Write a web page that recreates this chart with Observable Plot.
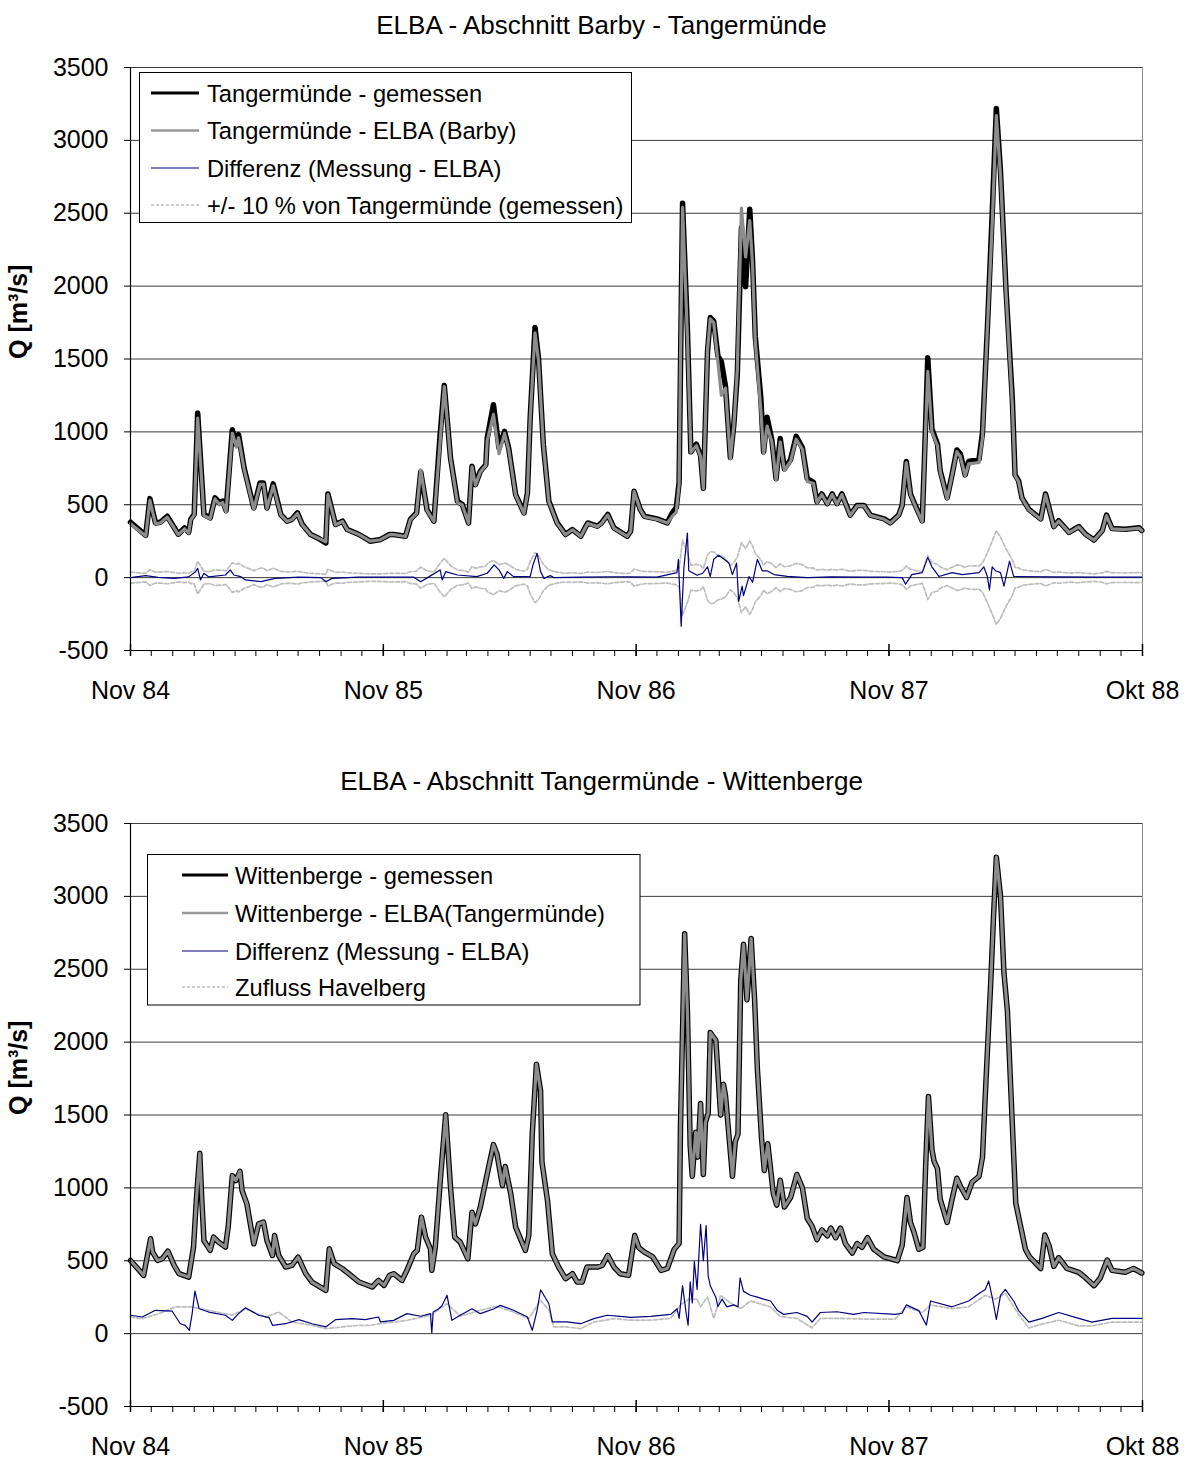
<!DOCTYPE html>
<html>
<head>
<meta charset="utf-8">
<script src="https://cdn.jsdelivr.net/npm/d3@7"></script>
<script src="https://cdn.jsdelivr.net/npm/@observablehq/plot@0.6"></script>
<style>
  body { margin: 0; background: #fff; }
  #page { position: relative; width: 1190px; height: 1461px; font-family: "Liberation Sans", Arial, sans-serif; }
  #page svg { position: absolute; left: 0; }
</style>
</head>
<body>
<div id="page"></div>
<script>
// Daily discharge, Elbe, hydrological years Nov 1984 – Oct 1988.
// Day numbers count from 1 Nov 1984.

// Tangermünde: [day, gemessen, ELBA (Barby)]  in m³/s
const tangermuende = [
  [0,380,370],[22,290,285],[28,542,530],[36,375,370],[43,380,375],[53,421,415],[69,298,295],
  [78,341,335],[84,310,305],[87,400,395],[92,435,430],[97,1129,1095],[106,433,425],[115,410,405],
  [122,547,540],[129,512,500],[133,525,515],[138,460,450],[147,1015,990],[153,912,895],[156,981,960],
  [164,752,745],[178,478,470],[187,649,640],[192,649,640],[197,478,475],[206,643,630],[217,433,430],
  [226,387,385],[233,400,398],[241,444,440],[248,364,362],[260,296,295],[272,268,268],[282,238,245],
  [285,574,570],[296,364,362],[306,387,385],[313,330,328],[330,296,295],[346,250,250],[361,262,260],
  [374,296,295],[380,296,295],[397,284,282],[404,399,397],[413,444,440],[419,725,740],[428,467,462],
  [438,387,385],[447,981,935],[453,1319,1310],[462,821,815],[472,524,515],[479,501,498],[488,375,373],
  [493,764,760],[498,638,635],[505,730,725],[513,775,770],[515,958,940],[524,1186,1120],[532,889,850],
  [540,1003,990],[546,889,880],[556,570,565],[568,444,440],[573,581,575],[577,1095,1090],[584,1716,1680],
  [589,1506,1490],[596,912,910],[604,524,520],[616,375,372],[628,296,294],[638,330,328],[650,284,283],
  [660,375,372],[674,353,350],[680,375,372],[689,433,430],[698,341,338],[717,284,283],[722,319,318],
  [727,592,590],[736,467,465],[742,421,418],[760,403,400],[775,376,374],[782,442,420],[788,482,450],
  [792,653,640],[794,1442,1500],[797,2569,2540],[804,1705,1650],[809,863,860],[817,916,905],[823,837,830],
  [827,613,610],[833,1548,1560],[837,1784,1775],[842,1758,1750],[848,1521,1480],[853,1482,1250],
  [859,1311,1300],[866,824,815],[871,1048,1040],[876,1390,1420],[882,2400,2535],[888,1995,2200],
  [894,2527,2450],[898,2179,2150],[902,1653,1620],[910,1232,1150],[914,863,850],[919,1100,1040],
  [926,942,930],[932,679,670],[938,955,930],[944,745,735],[953,811,800],[961,969,950],[970,890,880],
  [977,679,660],[986,653,645],[991,521,515],[998,574,570],[1006,508,505],[1013,574,570],[1020,508,505],
  [1027,574,570],[1039,429,426],[1049,495,492],[1059,495,492],[1068,429,427],[1088,403,400],[1097,376,374],
  [1109,429,427],[1114,495,493],[1120,797,790],[1126,574,570],[1133,495,490],[1143,390,385],[1146,784,770],
  [1151,1508,1416],[1157,1021,1000],[1165,916,905],[1169,732,725],[1179,547,540],[1186,705,700],
  [1193,876,865],[1198,850,830],[1205,705,700],[1210,797,780],[1225,811,790],[1230,995,960],
  [1237,1705,1700],[1244,2495,2430],[1250,3219,3170],[1256,2785,2760],[1264,1969,1950],[1273,1232,1200],
  [1277,705,700],[1282,666,660],[1287,547,545],[1297,468,465],[1314,403,400],[1321,574,570],[1328,442,440],
  [1333,350,348],[1340,390,388],[1355,311,309],[1369,350,348],[1379,297,295],[1391,258,257],[1403,324,322],
  [1409,429,425],[1417,337,335],[1436,332,330],[1456,342,340],[1460,324,322]
];

// Tangermünde: Differenz Messung - ELBA  [day, m³/s]
const tangerDiff = [
  [0,0],[22,14],[40,2],[63,-5],[84,5],[94,41],[97,64],[101,-16],[106,30],[113,5],[137,18],[144,53],
  [149,18],[159,7],[166,-16],[188,-28],[209,-5],[243,3],[275,0],[282,-28],[291,-5],[329,3],[361,4],
  [409,3],[419,-28],[433,12],[447,53],[450,-16],[455,41],[472,18],[500,7],[515,30],[525,87],[532,53],
  [539,-5],[544,41],[553,7],[577,7],[581,87],[587,167],[592,41],[597,-5],[606,14],[611,0],[650,4],
  [697,6],[722,5],[760,3],[789,34],[791,126],[795,-334],[799,74],[804,305],[806,47],[818,16],[826,30],
  [833,74],[837,8],[842,126],[849,153],[857,126],[864,100],[869,21],[875,100],[878,-163],[883,-58],
  [885,-124],[893,8],[898,-32],[905,126],[912,47],[919,47],[929,21],[948,8],[977,0],[1011,5],[1059,3],
  [1090,3],[1114,0],[1119,-45],[1128,21],[1143,34],[1151,139],[1157,74],[1167,8],[1186,34],[1201,21],
  [1225,34],[1232,74],[1237,8],[1240,-84],[1244,74],[1249,47],[1256,34],[1261,-58],[1269,113],[1275,8],
  [1331,5],[1400,3],[1460,3]
];

// Wittenberge gemessen [day, m³/s]; the ELBA (Tangermünde) run follows the same values
const wittenberge = [
  [0,502],[19,400],[29,651],[32,559],[39,502],[46,514],[54,566],[63,468],[70,411],[84,388],[91,594],
  [95,913],[100,1237],[103,913],[106,639],[115,571],[120,662],[127,628],[137,594],[141,730],[147,1084],
  [152,1050],[158,1114],[161,982],[168,890],[178,616],[185,753],[192,765],[197,639],[205,536],[208,673],
  [214,536],[224,457],[233,468],[242,525],[253,411],[262,354],[282,297],[287,582],[294,480],[306,445],
  [315,411],[330,354],[349,320],[358,365],[366,331],[374,400],[380,411],[392,365],[399,434],[409,548],
  [414,571],[420,799],[426,662],[433,582],[435,434],[440,594],[448,1096],[455,1502],[462,1004],[468,662],
  [476,628],[487,514],[493,833],[498,753],[505,868],[515,1096],[524,1297],[529,1233],[537,1016],[541,1146],
  [549,959],[556,731],[570,571],[575,673],[580,1370],[586,1849],[592,1667],[594,1176],[602,913],[609,548],
  [618,457],[628,377],[638,411],[645,354],[652,354],[659,457],[674,457],[681,468],[689,537],[698,457],
  [707,411],[719,400],[728,673],[734,589],[742,559],[754,526],[766,434],[775,447],[785,579],[792,618],
  [794,1421],[800,2743],[804,2211],[808,1290],[811,1079],[816,1382],[819,1211],[823,1579],[827,1092],
  [830,1448],[834,1513],[837,2066],[845,2013],[852,1500],[856,1711],[859,1632],[869,1079],[873,1316],
  [877,1369],[881,2421],[885,2671],[890,2290],[896,2711],[901,2290],[905,1816],[911,1342],[915,1119],
  [920,1303],[928,961],[933,882],[938,1053],[944,869],[953,934],[962,1092],[970,1000],[977,790],[984,737],
  [991,645],[998,711],[1006,671],[1011,724],[1018,658],[1025,724],[1032,618],[1042,553],[1049,618],
  [1056,592],[1064,658],[1073,579],[1088,526],[1104,505],[1107,500],[1114,605],[1121,934],[1126,763],
  [1131,697],[1138,579],[1144,592],[1148,1158],[1152,1627],[1157,1263],[1160,1184],[1165,1132],[1169,921],
  [1179,763],[1186,921],[1193,1066],[1198,1013],[1207,934],[1215,1040],[1225,1079],[1230,1211],[1234,1632],
  [1242,2421],[1246,2869],[1250,3269],[1256,3000],[1261,2474],[1266,2211],[1272,1553],[1278,895],
  [1285,737],[1292,579],[1298,526],[1314,447],[1320,676],[1326,605],[1333,461],[1340,521],[1352,447],
  [1369,421],[1379,382],[1391,329],[1400,382],[1410,505],[1417,434],[1436,421],[1448,447],[1460,416]
];

// Wittenberge: Differenz Messung - ELBA [day, m³/s]
const wittenbergeDiff = [
  [0,126],[17,114],[36,160],[60,155],[72,68],[79,57],[85,23],[89,137],[93,292],[99,171],[113,148],
  [137,126],[147,91],[156,137],[166,178],[185,126],[200,110],[205,57],[224,68],[243,96],[262,68],[282,46],
  [296,96],[320,103],[339,96],[358,114],[361,80],[380,91],[399,137],[419,119],[433,137],[435,5],[437,148],
  [445,171],[450,194],[457,263],[464,91],[476,126],[493,171],[505,137],[525,171],[534,194],[553,160],
  [573,114],[580,23],[587,160],[592,301],[604,205],[609,80],[630,80],[650,68],[669,103],[688,126],
  [707,119],[722,112],[751,118],[780,132],[789,171],[792,105],[797,329],[802,145],[805,58],[808,355],
  [811,210],[814,495],[818,303],[823,750],[827,500],[831,742],[834,395],[837,329],[845,250],[848,184],
  [854,237],[861,184],[871,197],[877,184],[880,382],[885,290],[895,263],[905,250],[914,237],[924,224],
  [934,158],[943,132],[962,145],[977,118],[984,79],[996,145],[1020,150],[1044,132],[1059,145],[1104,132],
  [1114,140],[1120,197],[1138,158],[1149,58],[1155,224],[1186,184],[1210,224],[1225,276],[1234,303],
  [1239,361],[1244,250],[1250,97],[1256,263],[1263,303],[1275,224],[1282,158],[1297,79],[1316,105],
  [1340,145],[1369,105],[1388,79],[1417,105],[1460,105]
];

// Zufluss Havelberg [day, m³/s]
const havelberg = [
  [0,114],[17,103],[41,137],[65,183],[89,183],[113,160],[147,126],[166,171],[195,114],[214,148],[233,80],
  [262,57],[282,34],[306,46],[330,57],[345,57],[361,68],[399,91],[433,126],[457,205],[476,120],[505,160],
  [529,187],[553,148],[575,103],[592,228],[604,160],[611,46],[630,46],[650,34],[669,80],[698,103],
  [722,92],[751,92],[780,105],[794,197],[806,237],[818,237],[823,184],[833,250],[842,105],[852,263],
  [866,211],[881,171],[895,224],[924,184],[938,118],[962,105],[984,39],[996,105],[1020,105],[1059,100],
  [1104,100],[1119,184],[1143,145],[1155,197],[1186,171],[1210,184],[1234,263],[1249,237],[1263,276],
  [1282,132],[1297,39],[1316,66],[1340,92],[1369,53],[1388,53],[1417,79],[1460,79]
];

const yTicks = [-500, 0, 500, 1000, 1500, 2000, 2500, 3000, 3500];
const xTickLabels = ["Nov 84", "Nov 85", "Nov 86", "Nov 87", "Okt 88"];

const DAY = 864e5;
const T0 = Date.UTC(1984, 10, 1);
const T1 = Date.UTC(1988, 10, 1);
const toDate = d => new Date(T0 + d * DAY);
const yearTicks = d3.utcYear.every(1).range(new Date(Date.UTC(1984, 0, 1)), new Date(Date.UTC(1989, 0, 1)))
  .map(d => d3.utcMonth.offset(d, 10));
const monthTicks = d3.utcMonth.range(new Date(T0), new Date(T1));
const labelOf = new Map(yearTicks.map((d, i) => [+d, xTickLabels[i]]));

const FONT = '"Liberation Sans", Arial, sans-serif';
const page = document.getElementById("page");

function panel({title, lines, legend, top}) {
  const marks = [
    Plot.gridY(yTicks.slice(1), {stroke: "#3c3c3c", strokeOpacity: 1, strokeWidth: 1}),
    Plot.ruleX([new Date(T1)], {stroke: "#8a8a8a", strokeWidth: 1}),
    ...lines,
    Plot.ruleY([-500], {stroke: "#000", strokeWidth: 1.2}),
    Plot.ruleX([new Date(T0)], {stroke: "#000", strokeWidth: 1.2}),
    Plot.axisY(yTicks, {tickSize: 6, tickPadding: 16, fontSize: 25, label: null, stroke: "#000",
      tickFormat: d => String(d)}),
    Plot.axisX(monthTicks, {tickSize: 6, tickFormat: () => "", label: null, stroke: "#000"}),
    Plot.axisX(yearTicks, {tickSize: -6, tickFormat: () => "", label: null, stroke: "#000", strokeWidth: 1.5}),
    Plot.axisX(yearTicks, {tickSize: 6, tickPadding: 25, fontSize: 25, label: null, stroke: "#000", strokeWidth: 1.5,
      tickFormat: d => labelOf.get(+d)}),
    Plot.text([title], {frameAnchor: "top", lineAnchor: "middle", dx: -35, dy: -42, fontSize: 26, fill: "#000"}),
    Plot.text(["Q [m³/s]"], {frameAnchor: "left", dx: -112, rotate: -90, fontSize: 25, fontWeight: "bold", fill: "#000"})
  ];
  const svg = Plot.plot({
    width: 1190,
    height: 705,
    marginLeft: 130,
    marginRight: 48,
    marginTop: 67,
    marginBottom: 55,
    style: {fontFamily: FONT, fontSize: "25px", background: "transparent", overflow: "visible", color: "#000"},
    x: {type: "utc", domain: [new Date(T0), new Date(T1)]},
    y: {domain: [-500, 3500]},
    marks
  });
  svg.style.top = top + "px";

  // legend box
  const g = d3.select(svg).append("g")
    .attr("font-family", FONT).attr("font-size", 23.7).attr("text-anchor", "start");
  g.append("rect")
    .attr("x", legend.x).attr("y", legend.y).attr("width", legend.w).attr("height", legend.h)
    .attr("fill", "#fff").attr("stroke", "#000").attr("stroke-width", 1);
  legend.rows.forEach((r, i) => {
    const y = legend.rowY[i];
    g.append("line")
      .attr("x1", legend.lineX[0]).attr("x2", legend.lineX[1]).attr("y1", y).attr("y2", y)
      .attr("stroke", r.stroke).attr("stroke-width", r.width)
      .attr("stroke-dasharray", r.dash || null);
    g.append("text")
      .attr("x", legend.textX).attr("y", y).attr("dy", "0.36em").attr("fill", "#000")
      .attr("text-anchor", "start")
      .text(r.label);
  });
  page.appendChild(svg);
}

const measuredStyle = {stroke: "#000", strokeWidth: 5.5, strokeLinejoin: "round"};
const elbaStyle = {stroke: "#8c8c8c", strokeWidth: 3.2, strokeLinejoin: "round"};
const diffStyle = {stroke: "#000080", strokeWidth: 1.2};
const dotStyle = {stroke: "#bdbdbd", strokeWidth: 1.7, strokeDasharray: "4,2"};

// Abschnitt Barby - Tangermünde
const tRows = tangermuende.map(([d, g, e]) => ({date: toDate(d), gemessen: g, elba: e}));
const tDiff = tangerDiff.map(([d, v]) => ({date: toDate(d), value: v}));
panel({
  title: "ELBA - Abschnitt Barby - Tangermünde",
  top: 0,
  lines: [
    Plot.lineY(tRows, {x: "date", y: d => 0.1 * d.gemessen, ...dotStyle}),
    Plot.lineY(tRows, {x: "date", y: d => -0.1 * d.gemessen, ...dotStyle}),
    Plot.lineY(tDiff, {x: "date", y: "value", ...diffStyle}),
    Plot.lineY(tRows, {x: "date", y: "gemessen", ...measuredStyle}),
    Plot.lineY(tRows, {x: "date", y: "elba", ...elbaStyle})
  ],
  legend: {
    x: 139.5, y: 72.5, w: 492, h: 150,
    lineX: [151, 199], textX: 207, rowY: [93, 130.5, 168, 205],
    rows: [
      {label: "Tangermünde - gemessen", stroke: "#000", width: 3},
      {label: "Tangermünde - ELBA (Barby)", stroke: "#999", width: 2.5},
      {label: "Differenz (Messung - ELBA)", stroke: "#000080", width: 1.2},
      {label: "+/- 10 % von Tangermünde (gemessen)", stroke: "#bdbdbd", width: 1.5, dash: "3,2"}
    ]
  }
});

// Abschnitt Tangermünde - Wittenberge
const wRows = wittenberge.map(([d, v]) => ({date: toDate(d), value: v}));
const wDiff = wittenbergeDiff.map(([d, v]) => ({date: toDate(d), value: v}));
const hRows = havelberg.map(([d, v]) => ({date: toDate(d), value: v}));
panel({
  title: "ELBA - Abschnitt Tangermünde - Wittenberge",
  top: 756,
  lines: [
    Plot.lineY(hRows, {x: "date", y: "value", ...dotStyle}),
    Plot.lineY(wDiff, {x: "date", y: "value", ...diffStyle}),
    Plot.lineY(wRows, {x: "date", y: "value", ...measuredStyle}),
    Plot.lineY(wRows, {x: "date", y: "value", ...elbaStyle})
  ],
  legend: {
    x: 147.5, y: 98.5, w: 492.5, h: 150.5,
    lineX: [182, 228], textX: 235, rowY: [119, 157, 195, 231],
    rows: [
      {label: "Wittenberge - gemessen", stroke: "#000", width: 3},
      {label: "Wittenberge - ELBA(Tangermünde)", stroke: "#999", width: 2.5},
      {label: "Differenz (Messung - ELBA)", stroke: "#000080", width: 1.2},
      {label: "Zufluss Havelberg", stroke: "#bdbdbd", width: 1.5, dash: "3,2"}
    ]
  }
});
</script>
</body>
</html>
